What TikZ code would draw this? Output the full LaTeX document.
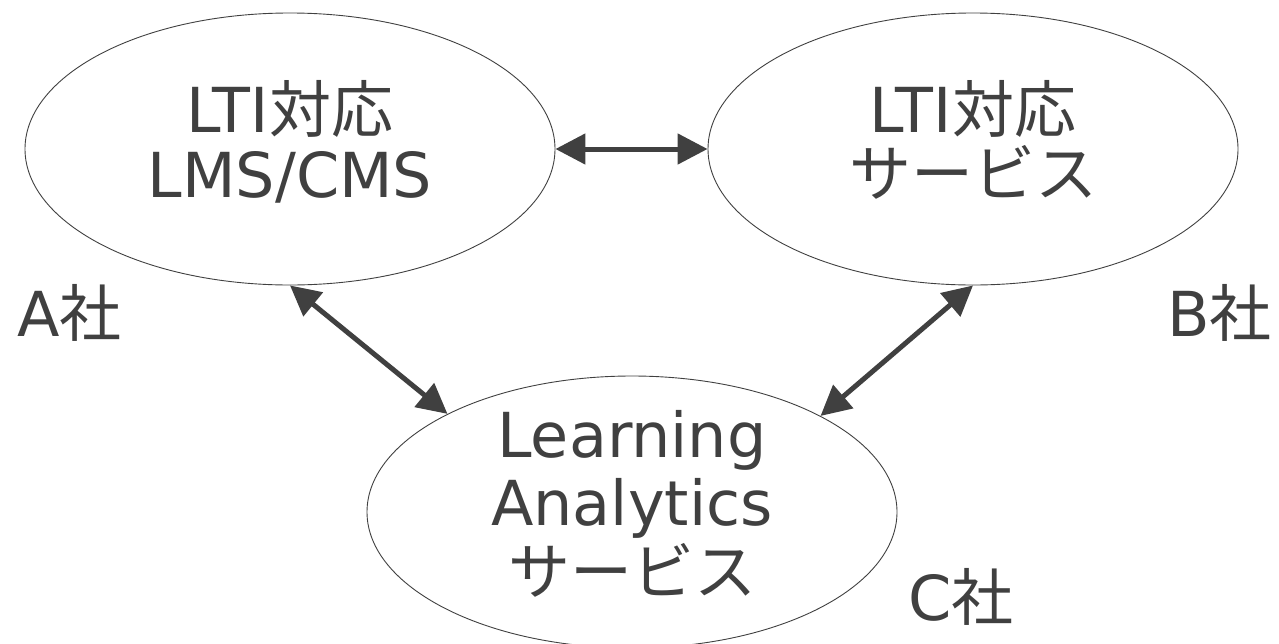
\documentclass[tikz,border=0pt]{standalone}
\usepackage{fontspec}
\setmainfont{DejaVu Sans}
\newfontfamily\jp{Noto Sans CJK JP}
\usetikzlibrary{shapes.geometric,arrows.meta}
\definecolor{ink}{HTML}{404040}
\tikzset{
  ellip/.style={draw=ink, line width=0.9pt, ellipse, minimum width=530pt, minimum height=272pt, inner sep=0pt},
  txt/.style={text=ink, anchor=base, inner sep=0pt, text height=46pt, text depth=6pt, font=\fontsize{62}{68}\selectfont},
  lbl/.style={text=ink, anchor=base west, inner sep=0pt, text height=46pt, text depth=6pt, font=\fontsize{62}{68}\selectfont},
  link/.style={draw=ink, line width=5pt, {Triangle[length=30pt,width=30pt]}-{Triangle[length=30pt,width=30pt]}}
}
\begin{document}
\begin{tikzpicture}[x=1pt,y=-1pt]
\useasboundingbox (0,0) rectangle (1279,643);
\node[ellip] (lms) at (290,149) {};
\node[ellip] (svc) at (973,149) {};
\node[ellip] (la) at (632,512) {};
\node[txt] (lms1) at (290,132) {LTI{\jp 対応}};
\node[txt] (lms2) at (290,197) {LMS/CMS};
\node[txt] (svc1) at (973,132) {LTI{\jp 対応}};
\node[txt] (svc2) at (973,196) {\jp サービス};
\node[txt] (la1) at (632,457) {Learning};
\node[txt] (la2) at (632,525) {Analytics};
\node[txt] (la3) at (632,594) {\jp サービス};
\node[lbl] (a) at (17,336) {A{\jp 社}};
\node[lbl] (b) at (1167,336) {B{\jp 社}};
\node[lbl] (c) at (908,620) {C{\jp 社}};
\draw[link] (lms.east) -- (svc.west);
\draw[link] (lms.south) -- (la.152.6);
\draw[link] (svc.south) -- (la.27.4);
\end{tikzpicture}
\end{document}
